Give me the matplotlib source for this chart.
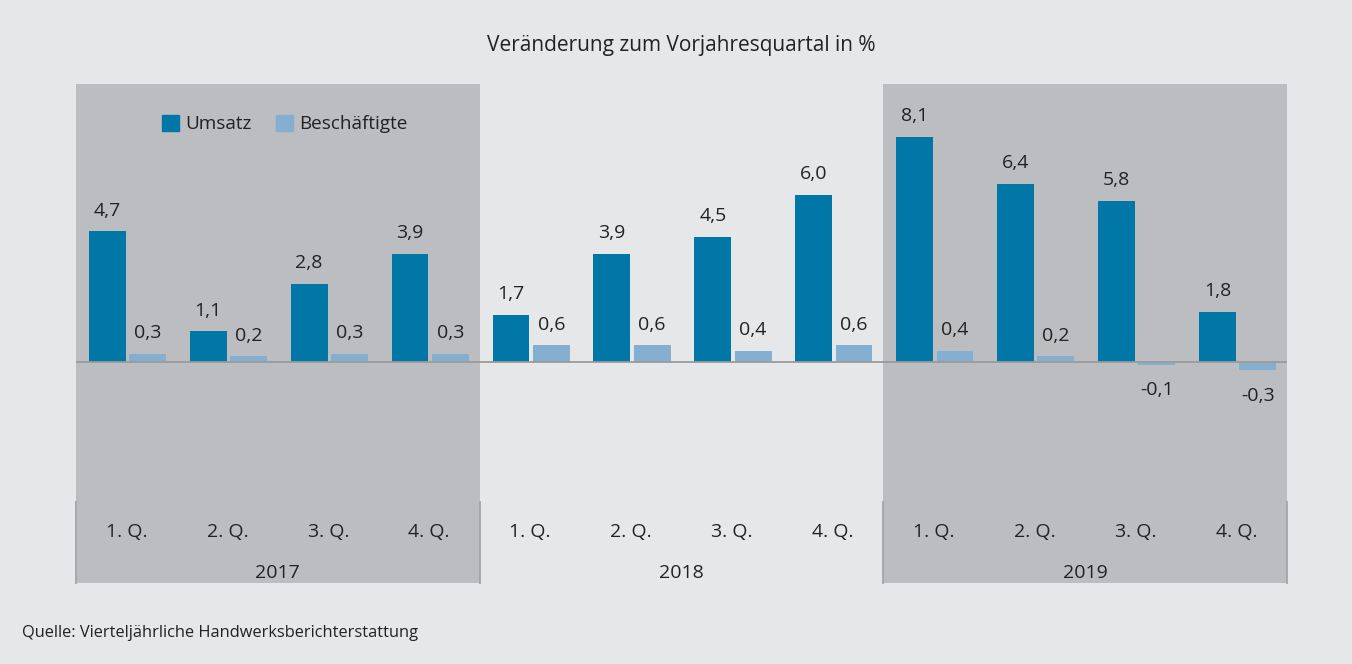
import matplotlib
matplotlib.use("Agg")
import matplotlib.pyplot as plt
from matplotlib.patches import Patch
import numpy as np

plt.rcParams["font.family"] = ["Open Sans", "DejaVu Sans"]

quarters = ["1. Q.", "2. Q.", "3. Q.", "4. Q."] * 3
years = ["2017", "2018", "2019"]
umsatz = [4.7, 1.1, 2.8, 3.9, 1.7, 3.9, 4.5, 6.0, 8.1, 6.4, 5.8, 1.8]
beschaeftigte = [0.3, 0.2, 0.3, 0.3, 0.6, 0.6, 0.4, 0.6, 0.4, 0.2, -0.1, -0.3]

bg = "#e6e7e9"
shade = "#bcbdc1"
dark = "#0077a6"
light = "#84afd1"
txt = "#222222"
fs = 14

W, H = 1352, 664
fig = plt.figure(figsize=(W / 100, H / 100), dpi=100, facecolor=bg)
ax = fig.add_axes([76 / W, (H - 583) / H, (1287 - 76) / W, (583 - 84) / H])
ax.set_facecolor(bg)
ax.set_xlim(-0.5, 11.5)
ax.set_ylim(-7.95, 10.0)
ax.axis("off")

# shaded years
ax.axvspan(-0.5, 3.5, color=shade, lw=0, zorder=0)
ax.axvspan(7.5, 11.5, color=shade, lw=0, zorder=0)

x = np.arange(len(umsatz))
w = 0.365
ax.bar(x - 0.19, umsatz, w, color=dark, zorder=2, label="Umsatz")
ax.bar(x + 0.21, beschaeftigte, w, color=light, zorder=2, label="Beschäftigte")
ax.axhline(0, color="#9a9a9a", lw=1.3, zorder=3)

def fmt(v):
    return f"{v:.1f}".replace(".", ",")

for xi, v in zip(x, umsatz):
    ax.annotate(fmt(v), (xi - 0.19, v), xytext=(0, 8.5), textcoords="offset points",
                ha="center", va="bottom", fontsize=fs, color=txt)
for xi, v in zip(x, beschaeftigte):
    if v >= 0:
        ax.annotate(fmt(v), (xi + 0.21, v), xytext=(0, 8.5), textcoords="offset points",
                    ha="center", va="bottom", fontsize=fs, color=txt)
    else:
        ax.annotate(fmt(v), (xi + 0.21, v), xytext=(0, -12), textcoords="offset points",
                    ha="center", va="top", fontsize=fs, color=txt)

# category band
band_top = -(502 - 362) / 27.8
for xv in [-0.5, 3.5, 7.5, 11.5]:
    ax.plot([xv, xv], [band_top, -7.95], color="#a3a4a7", lw=1.3, zorder=3, clip_on=False)
for xi, q in zip(x, quarters):
    ax.text(xi, -6.1, q, ha="center", va="center", fontsize=fs, color=txt)
for i, yr in enumerate(years):
    ax.text(4 * i + 1.5, -7.58, yr, ha="center", va="center", fontsize=fs, color=txt)

handles = [Patch(color=dark), Patch(color=light)]
ax.legend(handles, ["Umsatz", "Beschäftigte"], loc="center left",
          bbox_to_anchor=(145 / W, 1 - 124 / H), bbox_transform=fig.transFigure,
          ncol=2, frameon=False, fontsize=13.6, handlelength=0.9, handleheight=0.9,
          handletextpad=0.35, columnspacing=1.25, labelcolor=txt)

fig.text(681 / W, 1 - 46 / H, "Veränderung zum Vorjahresquartal in %",
         ha="center", va="center", fontsize=15, color=txt)
fig.text(22 / W, 1 - 633 / H, "Quelle: Vierteljährliche Handwerksberichterstattung",
         ha="left", va="center", fontsize=11.8, color=txt)

fig.savefig("out.png", dpi=100, facecolor=bg)
